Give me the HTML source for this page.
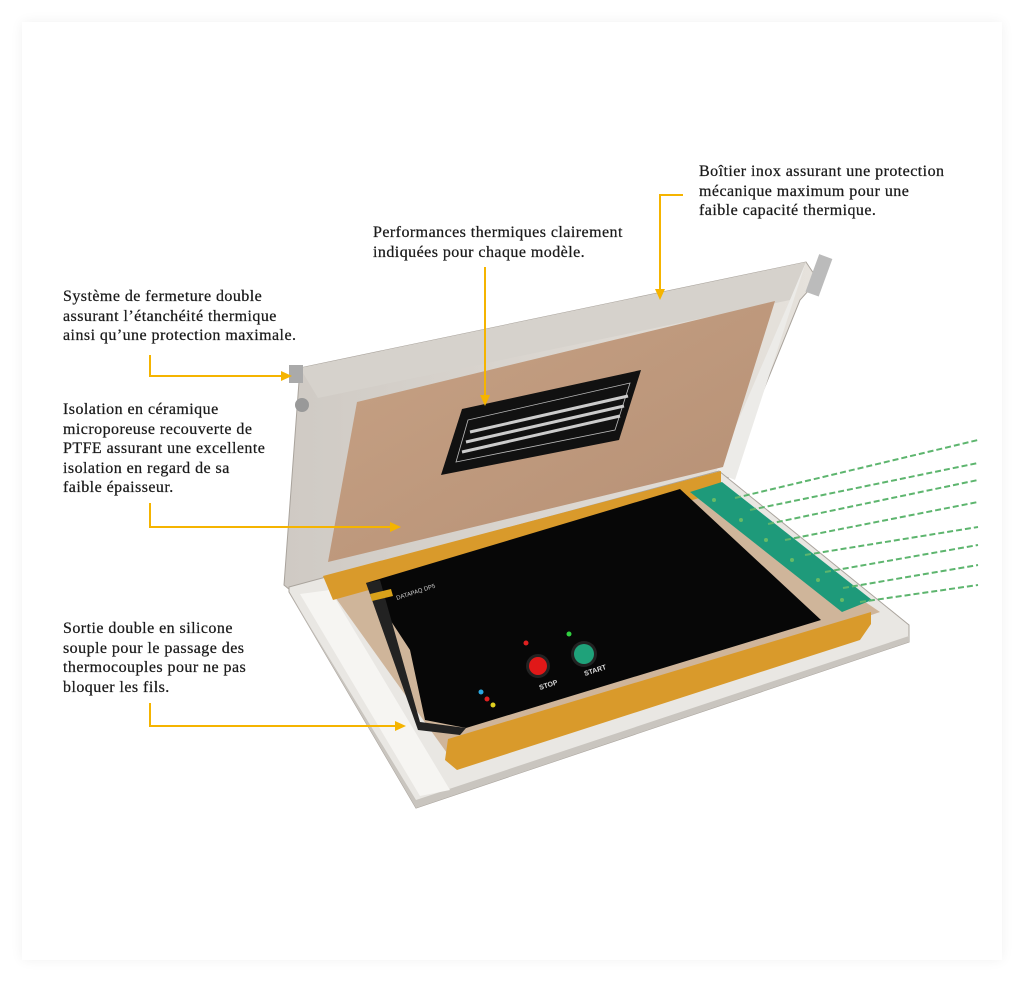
<!DOCTYPE html>
<html><head><meta charset="utf-8"><style>
html,body{margin:0;padding:0;background:#fff;}
body{width:1024px;height:985px;position:relative;overflow:hidden;}
.card{position:absolute;left:22px;top:22px;width:980px;height:938px;background:#fff;box-shadow:0 0 12px rgba(0,0,0,0.06);}
.t{position:absolute;font-family:"Liberation Serif",serif;font-size:16px;line-height:19.6px;color:#1a1a1a;letter-spacing:0.45px;-webkit-text-stroke:0.25px #1a1a1a;}
svg{position:absolute;left:0;top:0;}
</style></head><body>
<div class="card"></div>
<svg width="1024" height="985" viewBox="0 0 1024 985">
<defs>
<linearGradient id="wood" x1="0" y1="0" x2="1" y2="1"><stop offset="0" stop-color="#c7a285"/><stop offset="1" stop-color="#b58f74"/></linearGradient>
<linearGradient id="steel" x1="0" y1="0" x2="1" y2="0"><stop offset="0" stop-color="#cfcac4"/><stop offset="1" stop-color="#e6e2dc"/></linearGradient>
</defs>
<!-- lid frame -->
<polygon points="300,368 806,262 818,280 800,300 728,478 716,472 290,590 284,585" fill="url(#steel)" stroke="#a9a39c" stroke-width="1"/>
<polygon points="300,368 806,262 790,300 318,398" fill="#d6d2cc"/>
<polygon points="790,300 806,262 735,480 716,472" fill="#ecebe8"/>
<!-- wood panel -->
<polygon points="357,402 775,301 723,467 328,562" fill="url(#wood)"/>
<!-- plate -->
<polygon points="462,409 641,370 619,440 441,475" fill="#111"/>
<polygon points="468,420 630,383 615,430 456,462" fill="none" stroke="#bbb" stroke-width="0.8"/>
<line x1="470" y1="432" x2="628" y2="396" stroke="#ccc" stroke-width="3"/>
<line x1="466" y1="442" x2="624" y2="406" stroke="#ccc" stroke-width="3"/>
<line x1="462" y1="452" x2="620" y2="416" stroke="#ccc" stroke-width="3"/>
<!-- hinges/latches -->
<rect x="289" y="365" width="14" height="18" fill="#aaa"/>
<circle cx="302" cy="405" r="7" fill="#999"/>
<rect x="812" y="255" width="14" height="40" fill="#bbb" transform="rotate(20 818 275)"/>
<circle cx="405" cy="780" r="5" fill="#999"/>
<!-- tray -->
<polygon points="289,587 719,471 909,625 909,642 416,808 289,592" fill="#e9e7e3" stroke="#aaa49d" stroke-width="1"/>
<polygon points="289,592 416,800 909,636 909,642 416,808" fill="#c9c5bf"/>
<polygon points="300,594 330,590 450,790 420,796" fill="#f6f5f2"/>
<polygon points="330,590 700,490 880,612 452,760" fill="#cfb59a"/>
<!-- foam top -->
<polygon points="323,576 721,471 721,492 333,600" fill="#d99a2b"/>
<!-- device -->
<polygon points="366,583 680,489 821,620 466,728 425,720 410,650" fill="#070707"/>
<polygon points="366,583 380,580 420,722 466,728 460,735 418,730" fill="#222"/>
<polygon points="370,594 391,589 393,596 372,601" fill="#d9a21a"/>
<!-- connectors -->
<polygon points="690,492 722,482 872,600 842,612" fill="#1e9a7a"/>
<g fill="#6b6"><circle cx="714" cy="500" r="2"/><circle cx="741" cy="520" r="2"/><circle cx="766" cy="540" r="2"/><circle cx="792" cy="560" r="2"/><circle cx="818" cy="580" r="2"/><circle cx="842" cy="600" r="2"/></g>
<!-- wires -->
<g stroke="#5db56e" stroke-width="2" stroke-dasharray="6,3" fill="none">
<line x1="735" y1="498" x2="978" y2="440"/>
<line x1="750" y1="510" x2="978" y2="463"/>
<line x1="768" y1="524" x2="978" y2="480"/>
<line x1="785" y1="540" x2="978" y2="502"/>
<line x1="805" y1="555" x2="978" y2="527"/>
<line x1="825" y1="572" x2="978" y2="545"/>
<line x1="843" y1="588" x2="978" y2="565"/>
<line x1="860" y1="602" x2="978" y2="585"/>
</g>
<!-- foam bottom -->
<polygon points="448,739 871,612 871,624 860,640 457,770 445,760" fill="#d99a2b"/>
<!-- buttons -->
<circle cx="538" cy="666" r="12" fill="#222"/><circle cx="538" cy="666" r="9" fill="#e01818"/>
<circle cx="584" cy="654" r="13" fill="#222"/><circle cx="584" cy="654" r="10" fill="#1fa27a"/>
<circle cx="526" cy="643" r="2.5" fill="#e02020"/><circle cx="569" cy="634" r="2.5" fill="#30d040"/>
<text x="540" y="690" fill="#ddd" font-family="Liberation Sans" font-size="7" font-weight="bold" transform="rotate(-18 540 690)">STOP</text>
<text x="585" y="676" fill="#ddd" font-family="Liberation Sans" font-size="7" font-weight="bold" transform="rotate(-18 585 676)">START</text>
<circle cx="481" cy="692" r="2.5" fill="#2aa8e0"/><circle cx="487" cy="699" r="2.5" fill="#e02020"/><circle cx="493" cy="705" r="2.5" fill="#e0d020"/>
<text x="397" y="600" fill="#ccc" font-family="Liberation Sans" font-size="6" transform="rotate(-18 397 600)">DATAPAQ DP5</text>
<!-- arrows -->
<g stroke="#f5b400" stroke-width="2" fill="none">
<polyline points="150,355 150,376 282,376"/>
<polyline points="150,503 150,527 390,527"/>
<polyline points="150,703 150,726 395,726"/>
<line x1="485" y1="267" x2="485" y2="396"/>
<polyline points="683,195 660,195 660,290"/>
</g>
<g fill="#f5b400">
<polygon points="292,376 281,371 281,381"/>
<polygon points="401,527 390,522 390,532"/>
<polygon points="406,726 395,721 395,731"/>
<polygon points="485,406 480,395 490,395"/>
<polygon points="660,300 655,289 665,289"/>
</g>
</svg>
<div class="t" style="left:699px;top:162px;">Boîtier inox assurant une protection<br>mécanique maximum pour une<br>faible capacité thermique.</div>
<div class="t" style="left:373px;top:223px;">Performances thermiques clairement<br>indiquées pour chaque modèle.</div>
<div class="t" style="left:63px;top:287px;">Système de fermeture double<br>assurant l’étanchéité thermique<br>ainsi qu’une protection maximale.</div>
<div class="t" style="left:63px;top:400px;">Isolation en céramique<br>microporeuse recouverte de<br>PTFE assurant une excellente<br>isolation en regard de sa<br>faible épaisseur.</div>
<div class="t" style="left:63px;top:619px;">Sortie double en silicone<br>souple pour le passage des<br>thermocouples pour ne pas<br>bloquer les fils.</div>
</body></html>
